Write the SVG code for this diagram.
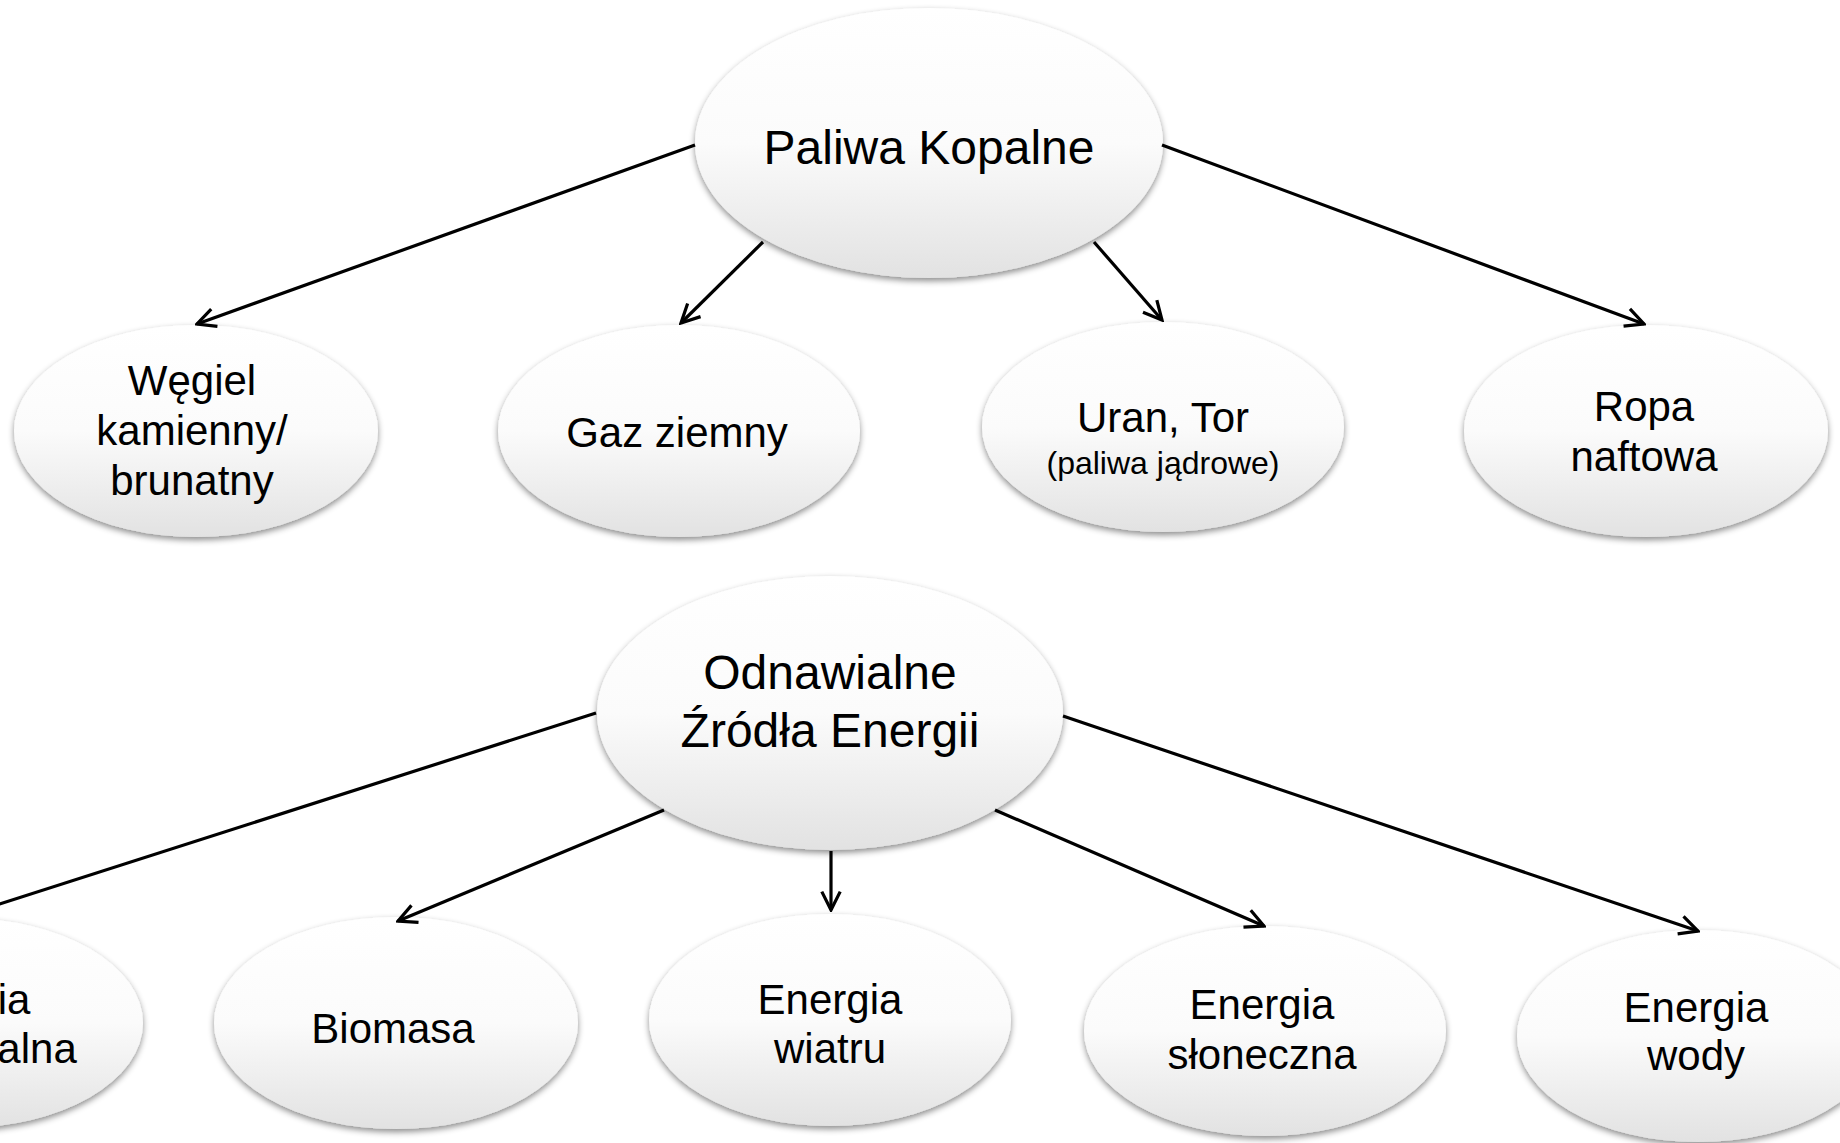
<svg xmlns="http://www.w3.org/2000/svg" width="1840" height="1143" viewBox="0 0 1840 1143">
<style>
.n{fill:url(#g);filter:url(#sh)}
.t{font-family:"Liberation Sans",Arial,sans-serif;font-size:42px;fill:#000;text-anchor:middle}
.tb{font-size:48px}
.ts{font-size:32px}
.c{stroke:#000;stroke-width:3.2;fill:none}
</style>
<defs>
<linearGradient id="g" x1="0" y1="0" x2="0" y2="1">
<stop offset="0" stop-color="#ffffff"/>
<stop offset="0.5" stop-color="#fbfbfb"/>
<stop offset="1" stop-color="#e2e2e2"/>
</linearGradient>
<filter id="sh" x="-10%" y="-10%" width="120%" height="130%">
<feDropShadow dx="0" dy="3" stdDeviation="3" flood-color="#000" flood-opacity="0.45"/>
</filter>
<marker id="a" viewBox="0 0 20 20" markerWidth="23" markerHeight="23" refX="18" refY="10" orient="auto" markerUnits="userSpaceOnUse">
<path d="M2,2 L18,10 L2,18" fill="none" stroke="#000" stroke-width="2.8" stroke-linejoin="miter"/>
</marker>
</defs>
<rect width="1840" height="1143" fill="#fff"/>
<g id="paliwa-kopalne"><ellipse class="n" cx="929" cy="143" rx="234" ry="135"/><text class="t tb" x="929" y="164">Paliwa Kopalne</text></g>
<g id="wegiel"><ellipse class="n" cx="196" cy="431" rx="182" ry="106"/><text class="t" x="192" y="395">Węgiel</text><text class="t" x="192" y="445">kamienny/</text><text class="t" x="192" y="495">brunatny</text></g>
<g id="gaz"><ellipse class="n" cx="679" cy="431" rx="181" ry="106"/><text class="t" x="677" y="447">Gaz ziemny</text></g>
<g id="uran"><ellipse class="n" cx="1163" cy="427" rx="181" ry="105"/><text class="t" x="1163" y="432">Uran, Tor</text><text class="t ts" x="1163" y="474">(paliwa jądrowe)</text></g>
<g id="ropa"><ellipse class="n" cx="1646" cy="431" rx="182" ry="106"/><text class="t" x="1644" y="421">Ropa</text><text class="t" x="1644" y="471">naftowa</text></g>
<g id="oze"><ellipse class="n" cx="830" cy="713" rx="233" ry="137"/><text class="t tb" x="830" y="689">Odnawialne</text><text class="t tb" x="830" y="747">Źródła Energii</text></g>
<g id="geotermalna"><ellipse class="n" cx="-38" cy="1023" rx="181" ry="105"/><text class="t" x="-42" y="1014">Energia</text><text class="t" x="-40" y="1063">geotermalna</text></g>
<g id="biomasa"><ellipse class="n" cx="396" cy="1023" rx="182" ry="106"/><text class="t" x="393" y="1043">Biomasa</text></g>
<g id="wiatr"><ellipse class="n" cx="830" cy="1020" rx="181" ry="106"/><text class="t" x="830" y="1014">Energia</text><text class="t" x="830" y="1063">wiatru</text></g>
<g id="slonce"><ellipse class="n" cx="1265" cy="1031" rx="181" ry="105"/><text class="t" x="1262" y="1019">Energia</text><text class="t" x="1262" y="1069">słoneczna</text></g>
<g id="woda"><ellipse class="n" cx="1698" cy="1036" rx="181" ry="106"/><text class="t" x="1696" y="1022">Energia</text><text class="t" x="1696" y="1070">wody</text></g>
<g id="connectors">
<line class="c" x1="695" y1="145" x2="197" y2="324" marker-end="url(#a)"/>
<line class="c" x1="763" y1="242" x2="681" y2="323" marker-end="url(#a)"/>
<line class="c" x1="1094" y1="242" x2="1162" y2="320" marker-end="url(#a)"/>
<line class="c" x1="1162" y1="145" x2="1644" y2="324" marker-end="url(#a)"/>
<line class="c" x1="596" y1="713" x2="-38" y2="916" marker-end="url(#a)"/>
<line class="c" x1="664" y1="810" x2="398" y2="921" marker-end="url(#a)"/>
<line class="c" x1="831" y1="851" x2="831" y2="910" marker-end="url(#a)"/>
<line class="c" x1="995" y1="810" x2="1264" y2="926" marker-end="url(#a)"/>
<line class="c" x1="1063" y1="716" x2="1698" y2="931" marker-end="url(#a)"/>
</g>
</svg>
